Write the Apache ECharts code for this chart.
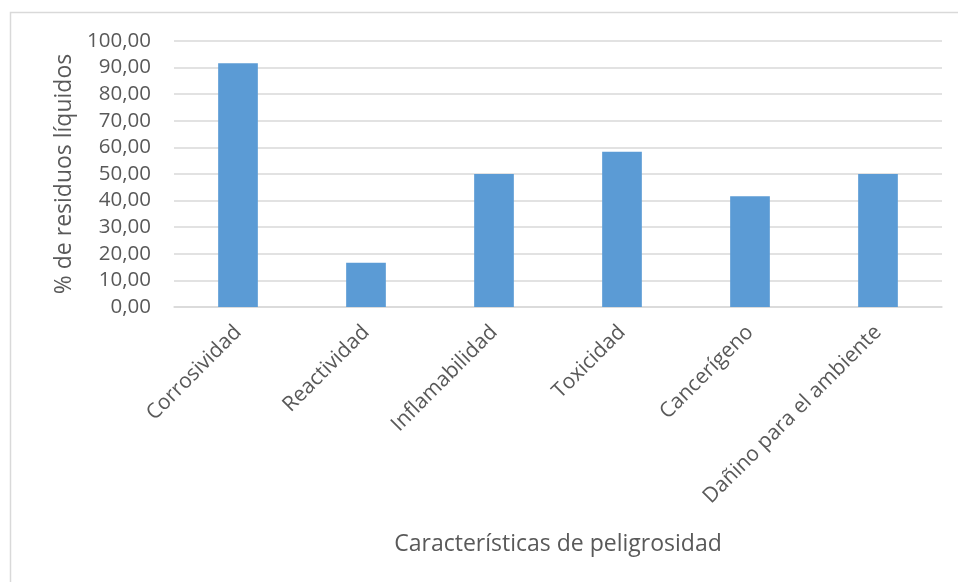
<!DOCTYPE html>
<html>
<head>
<meta charset="utf-8">
<script src="https://cdn.jsdelivr.net/npm/echarts@6/dist/echarts.min.js"></script>
<style>
  html, body { margin: 0; padding: 0; background: #ffffff; }
  #chart { width: 958px; height: 582px; }
</style>
</head>
<body>
<div id="chart"></div>
<script>
// Hazard characteristics of the liquid waste (% of samples)
const categories = ['Corrosividad', 'Reactividad', 'Inflamabilidad', 'Toxicidad', 'Cancerígeno', 'Dañino para el ambiente'];
const values = [91.67, 16.67, 50.00, 58.33, 41.67, 50.00];
const yTicks = { min: 0, max: 100, interval: 10 };

const textColor = '#595959';
const lineColor = '#d9d9d9';
const fontFamily = '"Open Sans", "Noto Sans", sans-serif';

const chart = echarts.init(document.getElementById('chart'), null, { renderer: 'canvas' });

chart.setOption({
  animation: false,
  backgroundColor: '#ffffff',
  textStyle: { fontFamily: fontFamily, color: textColor },
  graphic: [{
    type: 'rect',
    shape: { x: 10.5, y: 12.5, width: 1000, height: 1000 },
    style: { fill: 'none', stroke: lineColor, lineWidth: 1.5 },
    silent: true
  }],
  grid: { left: 174, right: 16, top: 41, bottom: 275, containLabel: false },
  xAxis: {
    type: 'category',
    data: categories,
    axisLine: { show: true, lineStyle: { color: lineColor, width: 1.5 } },
    axisTick: { show: false },
    axisLabel: {
      rotate: 45,
      interval: 0,
      margin: 22,
      fontSize: 21,
      color: textColor,
      fontFamily: fontFamily
    },
    name: 'Características de peligrosidad',
    nameLocation: 'middle',
    nameGap: 226,
    nameTextStyle: { fontSize: 23, color: textColor, fontFamily: fontFamily }
  },
  yAxis: {
    type: 'value',
    min: yTicks.min,
    max: yTicks.max,
    interval: yTicks.interval,
    axisLine: { show: false },
    axisTick: { show: false },
    splitLine: { lineStyle: { color: lineColor, width: 1.5 } },
    axisLabel: {
      margin: 23,
      fontSize: 20.5,
      color: textColor,
      fontFamily: fontFamily,
      formatter: v => v.toFixed(2).replace('.', ',')
    },
    name: '% de residuos líquidos',
    nameLocation: 'middle',
    nameGap: 96,
    nameTextStyle: { fontSize: 23, color: textColor, fontFamily: fontFamily }
  },
  series: [{
    type: 'bar',
    data: values,
    barWidth: '31%',
    itemStyle: { color: '#5b9bd5' }
  }]
});
</script>
</body>
</html>
